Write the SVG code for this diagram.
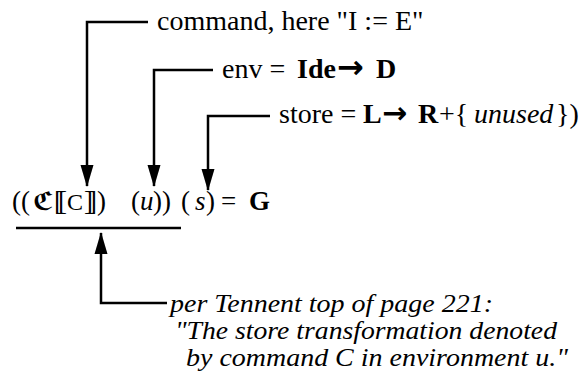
<svg xmlns="http://www.w3.org/2000/svg" width="580" height="372" viewBox="0 0 580 372">
<style>
text{font-family:"Liberation Serif","Times New Roman",serif;fill:#000}
.lbl{font-size:28px}
.note{font-size:26px;font-style:italic}
.f{font-size:27px}
.b{font-weight:bold}
.i{font-style:italic}
.arr{font-family:"DejaVu Sans",sans-serif;font-weight:bold}
.con{fill:none;stroke:#000;stroke-width:2.5}
</style>
<defs>
<marker id="ah" markerUnits="userSpaceOnUse" markerWidth="22" markerHeight="14" refX="21" refY="7" orient="auto">
<path d="M0,0.5 L22,7 L0,13.5 z" fill="#000"/>
</marker>
</defs>
<rect width="580" height="372" fill="#fff"/>
<g id="connectors">
<path class="con" d="M148,22 H87 V186" marker-end="url(#ah)"/>
<path class="con" d="M213,70 H154 V186" marker-end="url(#ah)"/>
<path class="con" d="M270,116 H208 V190" marker-end="url(#ah)"/>
<path class="con" d="M167,303 H101 V233" marker-end="url(#ah)"/>
<line class="con" x1="16" y1="228" x2="181" y2="228"/>
</g>
<g id="command">
<text class="lbl" x="157" y="30">command, here "I := E"</text>
</g>
<g id="env">
<text class="lbl" x="222" y="78">env = <tspan class="b" x="297">Ide</tspan><tspan class="arr" x="337" font-size="32">→</tspan><tspan class="b" x="376">D</tspan></text>
</g>
<g id="store">
<text class="lbl" x="279" y="123">store = <tspan class="b" x="363">L</tspan><tspan class="arr" x="382" font-size="30">→</tspan><tspan class="b" x="418">R</tspan><tspan x="439">+{</tspan><tspan class="i" x="474">unused</tspan><tspan x="556">})</tspan></text>
</g>
<g id="formula">
<text class="f" y="210"><tspan x="12">((</tspan><tspan x="33" class="b" style="font-family:'DejaVu Serif','DejaVu Sans',serif" font-size="25">ℭ</tspan><tspan x="54" letter-spacing="-5">[[</tspan><tspan x="67" font-size="24">C</tspan><tspan x="84" letter-spacing="-5">]]</tspan><tspan x="97">)</tspan><tspan x="131">(</tspan><tspan class="i" x="140">u</tspan><tspan x="153">))</tspan><tspan x="181">(</tspan><tspan class="i" x="195">s</tspan><tspan x="206">)</tspan><tspan x="221">=</tspan><tspan class="b" x="249">G</tspan></text>
</g>
<g id="note">
<text class="note" x="170" y="312" textLength="323" lengthAdjust="spacingAndGlyphs">per Tennent top of page 221:</text>
<text class="note" x="175" y="339" textLength="382" lengthAdjust="spacingAndGlyphs">"The store transformation denoted</text>
<text class="note" x="186" y="366" textLength="382" lengthAdjust="spacingAndGlyphs">by command C in environment u."</text>
</g>
</svg>
